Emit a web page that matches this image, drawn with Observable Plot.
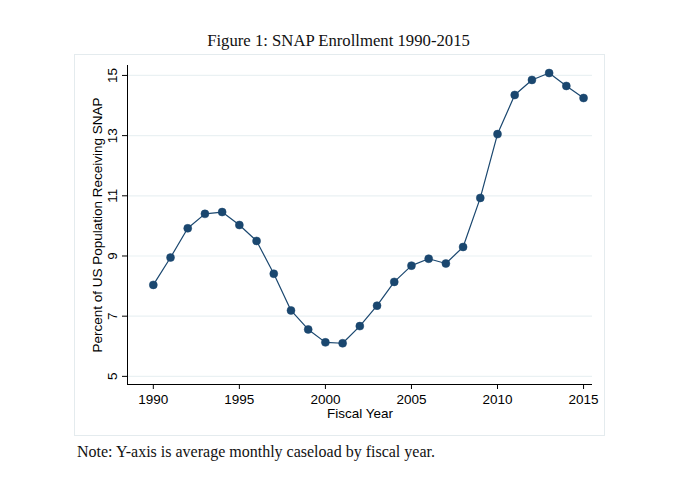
<!DOCTYPE html>
<html>
<head>
<meta charset="utf-8">
<script src="https://cdn.jsdelivr.net/npm/d3@7"></script>
<script src="https://cdn.jsdelivr.net/npm/@observablehq/plot@0.6"></script>
<style>
  html, body { margin: 0; padding: 0; background: #fff; }
  #wrap { position: relative; width: 693px; height: 492px; overflow: hidden; }
  #box { position: absolute; left: 74px; top: 54px; width: 531px; height: 382px; border: 1px solid #e4ebee; box-sizing: border-box; }
  #title { position: absolute; left: 0; width: 677px; top: 31px; text-align: center; font-family: "Liberation Serif", serif; font-size: 16.7px; line-height: 19px; color: #111; }
  #note { position: absolute; left: 77px; top: 442px; font-family: "Liberation Serif", serif; font-size: 16px; line-height: 19px; color: #111; }
  #chart { position: absolute; left: 0; top: 0; }
</style>
</head>
<body>
<div id="wrap">
  <div id="box"></div>
  <div id="title">Figure 1: SNAP Enrollment 1990-2015</div>
  <div id="chart"></div>
  <div id="note">Note: Y-axis is average monthly caseload by fiscal year.</div>
</div>
<script>
const years = [1990,1991,1992,1993,1994,1995,1996,1997,1998,1999,2000,2001,2002,2003,2004,2005,2006,2007,2008,2009,2010,2011,2012,2013,2014,2015];
const percent = [8.04,8.95,9.92,10.40,10.46,10.03,9.50,8.41,7.19,6.56,6.13,6.10,6.67,7.35,8.14,8.68,8.91,8.75,9.30,10.93,13.05,14.35,14.85,15.08,14.65,14.25];
const xTicks = [1990,1995,2000,2005,2010,2015];
const yTicks = [5,7,9,11,13,15];
const xLabel = "Fiscal Year";
const yLabel = "Percent of US Population Receiving SNAP";

const data = years.map((y, i) => ({year: y, value: percent[i]}));
const navy = "#1a476f";
const xDomain = [1988.5, 2015.52];
const yDomain = [4.73, 15.33];

const chart = Plot.plot({
  width: 693,
  height: 492,
  marginLeft: 127,
  marginRight: 101,
  marginTop: 65,
  marginBottom: 108,
  style: {background: "transparent", fontFamily: "'Liberation Sans', Arial, sans-serif", color: "#000"},
  x: {domain: xDomain, label: null},
  y: {domain: yDomain, label: null},
  marks: [
    Plot.ruleY(yTicks, {stroke: "#eaf1f3", strokeWidth: 1.2}),
    Plot.ruleX([xDomain[0]], {stroke: "#000", strokeWidth: 1}),
    Plot.ruleY([yDomain[0]], {stroke: "#000", strokeWidth: 1}),
    Plot.axisY({ticks: yTicks, tickSize: 5, tickFormat: () => "", label: null, stroke: "#000"}),
    Plot.axisX({ticks: xTicks, tickSize: 5, tickFormat: () => "", label: null, stroke: "#000"}),
    Plot.text(yTicks, {y: d => d, text: d => String(d), frameAnchor: "left", dx: -15, rotate: -90, textAnchor: "middle", lineAnchor: "middle", fontSize: 13.5, fill: "#000"}),
    Plot.text(xTicks, {x: d => d, text: d => String(d), frameAnchor: "bottom", dy: 15, lineAnchor: "middle", fontSize: 13.5, fill: "#000"}),
    Plot.text([xLabel], {frameAnchor: "bottom", dy: 29, lineAnchor: "middle", fontSize: 13.5, fill: "#000", text: d => d}),
    Plot.text([yLabel], {frameAnchor: "left", dx: -30, rotate: -90, textAnchor: "middle", lineAnchor: "middle", fontSize: 13.5, fill: "#000", text: d => d}),
    Plot.line(data, {x: "year", y: "value", stroke: navy, strokeWidth: 1.2}),
    Plot.dot(data, {x: "year", y: "value", r: 4, fill: navy, stroke: navy, strokeWidth: 0.5})
  ]
});
document.getElementById("chart").appendChild(chart);
</script>
</body>
</html>
